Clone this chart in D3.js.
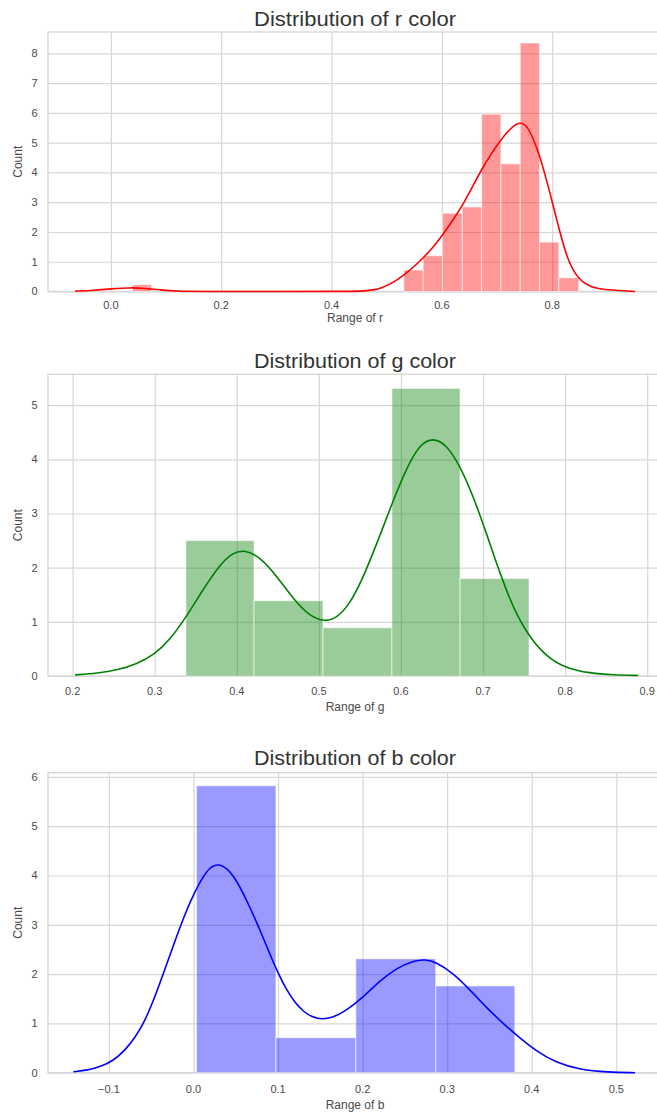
<!DOCTYPE html>
<html>
<head>
<meta charset="utf-8">
<script src="https://cdn.jsdelivr.net/npm/d3@7"></script>
<style>
  html, body { margin: 0; padding: 0; background: #fff; }
  svg { display: block; }
  text { font-family: "Liberation Sans", Arial, sans-serif; }
</style>
</head>
<body>
<svg id="chart" width="657" height="1115"></svg>
<script>
// ---------------- DATA ----------------
// r channel: histogram bins [x0, x1] and density heights
const rBinX0 = [0.039, 0.531, 0.566, 0.601, 0.637, 0.672, 0.707, 0.742, 0.777, 0.812];
const rBinX1 = [0.074, 0.566, 0.601, 0.637, 0.672, 0.707, 0.742, 0.777, 0.812, 0.848];
const rBinH  = [0.23, 0.72, 1.20, 2.63, 2.84, 5.96, 4.29, 8.35, 1.66, 0.46];
const rKdeX = [-0.065, -0.03, 0.0, 0.035, 0.06, 0.09, 0.12, 0.16, 0.30, 0.44, 0.46, 0.475, 0.49, 0.51, 0.531, 0.55, 0.566, 0.585, 0.601, 0.62, 0.637, 0.655, 0.672, 0.69, 0.707, 0.725, 0.742, 0.755, 0.766, 0.776, 0.786, 0.799, 0.814, 0.829, 0.847, 0.869, 0.899, 0.95];
const rKdeY = [0.01, 0.04, 0.09, 0.13, 0.11, 0.05, 0.01, 0.0, 0.0, 0.0, 0.02, 0.05, 0.11, 0.28, 0.55, 0.84, 1.13, 1.50, 1.90, 2.40, 2.88, 3.50, 4.10, 4.65, 5.10, 5.50, 5.72, 5.55, 5.12, 4.62, 4.00, 3.09, 1.98, 1.00, 0.42, 0.14, 0.05, 0.0];
const rXTicks = [0.0, 0.2, 0.4, 0.6, 0.8];
const rYTicks = [0, 1, 2, 3, 4, 5, 6, 7, 8];
const rXLim = [-0.114, 0.999];
const rYLim = [0, 8.72];

// g channel
const gBinX0 = [0.338, 0.421, 0.505, 0.589, 0.672];
const gBinX1 = [0.421, 0.505, 0.589, 0.672, 0.756];
const gBinH  = [2.50, 1.39, 0.89, 5.31, 1.80];
const gKdeX = [0.203, 0.23, 0.255, 0.278, 0.30, 0.318, 0.338, 0.359, 0.379, 0.395, 0.41, 0.428, 0.449, 0.469, 0.489, 0.507, 0.522, 0.537, 0.552, 0.570, 0.589, 0.607, 0.623, 0.639, 0.655, 0.672, 0.688, 0.704, 0.720, 0.737, 0.756, 0.777, 0.80, 0.83, 0.86, 0.889];
const gKdeY = [0.02, 0.05, 0.11, 0.22, 0.40, 0.66, 1.08, 1.60, 2.05, 2.28, 2.33, 2.20, 1.84, 1.42, 1.10, 1.00, 1.07, 1.32, 1.75, 2.42, 3.18, 3.85, 4.28, 4.40, 4.28, 3.88, 3.32, 2.64, 1.92, 1.24, 0.73, 0.36, 0.15, 0.05, 0.02, 0.01];
const gXTicks = [0.2, 0.3, 0.4, 0.5, 0.6, 0.7, 0.8, 0.9];
const gYTicks = [0, 1, 2, 3, 4, 5];
const gXLim = [0.170, 0.918];
const gYLim = [0, 5.57];

// b channel
const bBinX0 = [0.0035, 0.0975, 0.192, 0.2865];
const bBinX1 = [0.0975, 0.192, 0.2865, 0.380];
const bBinH  = [5.82, 0.71, 2.31, 1.76];
const bKdeX = [-0.142, -0.125, -0.11, -0.095, -0.08, -0.069, -0.059, -0.05, -0.040, -0.030, -0.020, -0.010, 0.0, 0.016, 0.029, 0.047, 0.0665, 0.08, 0.09, 0.10, 0.11, 0.12, 0.13, 0.14, 0.152, 0.165, 0.18, 0.20, 0.22, 0.240, 0.260, 0.274, 0.287, 0.307, 0.327, 0.347, 0.366, 0.386, 0.406, 0.429, 0.457, 0.49, 0.522];
const bKdeY = [0.02, 0.05, 0.12, 0.24, 0.47, 0.72, 1.00, 1.35, 1.80, 2.28, 2.76, 3.22, 3.62, 4.13, 4.27, 4.06, 3.37, 2.84, 2.42, 2.02, 1.68, 1.42, 1.24, 1.13, 1.08, 1.12, 1.25, 1.52, 1.86, 2.12, 2.27, 2.30, 2.24, 2.02, 1.68, 1.31, 1.00, 0.70, 0.43, 0.20, 0.06, 0.01, 0.0];
const bXTicks = [-0.1, 0.0, 0.1, 0.2, 0.3, 0.4, 0.5];
const bYTicks = [0, 1, 2, 3, 4, 5, 6];
const bXLim = [-0.172, 0.554];
const bYLim = [0, 6.085];

const titles = ["Distribution of r color", "Distribution of g color", "Distribution of b color"];
const xLabels = ["Range of r", "Range of g", "Range of b"];
const yLabel = "Count";

// ---------------- LAYOUT / STYLE ----------------
const panels = [
  { title: titles[0], xlab: xLabels[0], x0: rBinX0, x1: rBinX1, h: rBinH, kx: rKdeX, ky: rKdeY, xt: rXTicks, yt: rYTicks, xl: rXLim, yl: rYLim,
    top: 32, bottom: 291.5, titleY: 26, tickY: 309, labY: 322, color: "#ff0000" },
  { title: titles[1], xlab: xLabels[1], x0: gBinX0, x1: gBinX1, h: gBinH, kx: gKdeX, ky: gKdeY, xt: gXTicks, yt: gYTicks, xl: gXLim, yl: gYLim,
    top: 374.3, bottom: 676, titleY: 367.5, tickY: 695, labY: 711, color: "#008000" },
  { title: titles[2], xlab: xLabels[2], x0: bBinX0, x1: bBinX1, h: bBinH, kx: bKdeX, ky: bKdeY, xt: bXTicks, yt: bYTicks, xl: bXLim, yl: bYLim,
    top: 772.7, bottom: 1072.7, titleY: 765, tickY: 1093, labY: 1109, color: "#0000ff" }
];
const left = 48, right = 662;
const gridColor = "#d7d7d7";
const fmt = v => d3.format(".1f")(v).replace("-", "\u2212");

const svg = d3.select("#chart");

panels.forEach(p => {
  const x = d3.scaleLinear().domain(p.xl).range([left, right]);
  const y = d3.scaleLinear().domain(p.yl).range([p.bottom, p.top]);
  const g = svg.append("g");

  // grid
  const xAxisGrid = d3.axisBottom(x).tickValues(p.xt).tickSize(-(p.bottom - p.top)).tickFormat("");
  const gx = g.append("g").attr("transform", `translate(0,${p.bottom})`).call(xAxisGrid);
  gx.select(".domain").remove();
  gx.selectAll("line").attr("stroke", gridColor).attr("stroke-width", 1.2);

  const yAxisGrid = d3.axisLeft(y).tickValues(p.yt).tickSize(-(right - left)).tickFormat("");
  const gy = g.append("g").attr("transform", `translate(${left},0)`).call(yAxisGrid);
  gy.select(".domain").remove();
  gy.selectAll("line").attr("stroke", gridColor).attr("stroke-width", 1.2);

  // frame
  g.append("rect").attr("x", left).attr("y", p.top).attr("width", right - left).attr("height", p.bottom - p.top)
    .attr("fill", "none").attr("stroke", gridColor).attr("stroke-width", 1.4);

  // bars
  g.append("g").selectAll("rect").data(p.h).join("rect")
    .attr("x", (d, i) => x(p.x0[i]))
    .attr("width", (d, i) => x(p.x1[i]) - x(p.x0[i]))
    .attr("y", d => y(d))
    .attr("height", d => y(0) - y(d))
    .attr("fill", p.color).attr("fill-opacity", 0.4)
    .attr("stroke", "#ffffff").attr("stroke-opacity", 0.6).attr("stroke-width", 1);

  // kde
  const pts = p.kx.map((v, i) => [v, p.ky[i]]);
  const line = d3.line().x(d => x(d[0])).y(d => y(d[1])).curve(d3.curveBasis);
  g.append("path").datum(pts).attr("d", line)
    .attr("fill", "none").attr("stroke", p.color).attr("stroke-width", 1.6);

  // tick labels
  g.append("g").selectAll("text").data(p.xt).join("text")
    .attr("x", d => x(d)).attr("y", p.tickY)
    .attr("text-anchor", "middle").attr("font-size", 11).attr("fill", "#4a4a4a")
    .text(d => fmt(d));
  g.append("g").selectAll("text").data(p.yt).join("text")
    .attr("x", 37.5).attr("y", d => y(d)).attr("dy", "0.35em")
    .attr("text-anchor", "end").attr("font-size", 11).attr("fill", "#4a4a4a")
    .text(d => d);

  // labels
  g.append("text").attr("x", 355).attr("y", p.titleY).attr("text-anchor", "middle")
    .attr("font-size", 20).attr("fill", "#333").attr("textLength", 202).attr("lengthAdjust", "spacingAndGlyphs")
    .text(p.title);
  g.append("text").attr("x", 355).attr("y", p.labY).attr("text-anchor", "middle")
    .attr("font-size", 12).attr("fill", "#4a4a4a").text(p.xlab);
  g.append("text").attr("transform", `translate(22,${(p.top + p.bottom) / 2}) rotate(-90)`)
    .attr("text-anchor", "middle").attr("font-size", 12).attr("fill", "#4a4a4a").text(yLabel);
});
</script>
</body>
</html>
